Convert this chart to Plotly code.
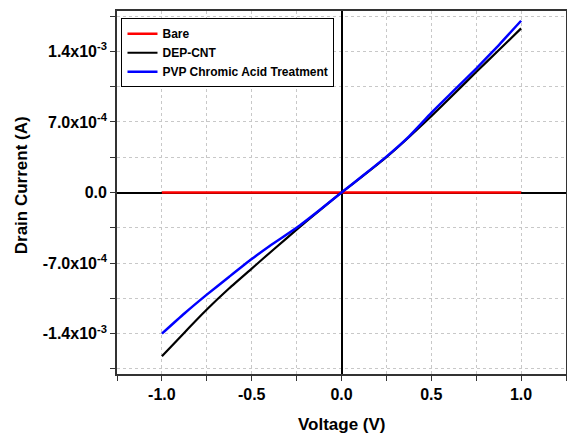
import plotly.graph_objects as go

# Voltage (V) / Drain current (A)
v_bare = [-1.0, -0.5, 0.0, 0.5, 1.0]
i_bare = [0.0, 0.0, 0.0, 0.0, 0.0]

v_dep = [-1.0, -0.875, -0.75, -0.625, -0.5, -0.375, -0.25, -0.125, 0.0,
         0.125, 0.25, 0.375, 0.5, 0.625, 0.75, 0.875, 1.0]
i_dep = [-1.624e-3, -1.39e-3, -1.161e-3, -0.95e-3, -0.755e-3, -0.56e-3, -0.369e-3, -0.182e-3, 0.0,
         0.172e-3, 0.350e-3, 0.548e-3, 0.757e-3, 0.975e-3, 1.195e-3, 1.41e-3, 1.628e-3]

v_pvp = [-1.0, -0.875, -0.75, -0.625, -0.5, -0.4, -0.25, -0.125, 0.0,
         0.125, 0.25, 0.375, 0.5, 0.625, 0.75, 0.875, 1.0]
i_pvp = [-1.40e-3, -1.20e-3, -1.013e-3, -0.835e-3, -0.66e-3, -0.53e-3, -0.35e-3, -0.178e-3, 0.0,
         0.175e-3, 0.356e-3, 0.555e-3, 0.79e-3, 1.01e-3, 1.229e-3, 1.46e-3, 1.703e-3]

x_tickvals = [-1.0, -0.5, 0.0, 0.5, 1.0]
x_ticktext = ["-1.0", "-0.5", "0.0", "0.5", "1.0"]
x_minorvals = [-1.25, -0.75, -0.25, 0.25, 0.75, 1.25]
y_tickvals = [-1.4e-3, -7.0e-4, 0.0, 7.0e-4, 1.4e-3]
y_ticktext = ["-1.4x10<sup>-3</sup>", "-7.0x10<sup>-4</sup>", "0.0",
              "7.0x10<sup>-4</sup>", "1.4x10<sup>-3</sup>"]
y_minorvals = [-1.75e-3, -1.05e-3, -3.5e-4, 3.5e-4, 1.05e-3, 1.75e-3]

FONT = "Liberation Sans, Arial, sans-serif"

fig = go.Figure()
fig.add_trace(go.Scatter(x=v_bare, y=i_bare, mode="lines", name="Bare",
                         line=dict(color="#ff0000", width=2.5)))
fig.add_trace(go.Scatter(x=v_dep, y=i_dep, mode="lines", name="DEP-CNT",
                         line=dict(color="#000000", width=2.2, shape="spline", smoothing=0.5)))
fig.add_trace(go.Scatter(x=v_pvp, y=i_pvp, mode="lines", name="PVP Chromic Acid Treatment",
                         line=dict(color="#0000ff", width=2.5, shape="spline", smoothing=0.5)))

common = dict(
    ticks="outside", ticklen=5, tickwidth=1.3, tickcolor="#333",
    showline=True, linecolor="#333", linewidth=1.8, mirror=True,
    zeroline=True, zerolinecolor="#000", zerolinewidth=1.5,
    tickfont=dict(family=FONT, size=16, color="#000", weight="bold"),
    showgrid=True, gridcolor="#c8c8c8", griddash="dot", gridwidth=1,
    automargin=False,
)
minor_common = dict(ticks="outside", ticklen=5, tickwidth=1.3, tickcolor="#333",
                    showgrid=True, gridcolor="#c8c8c8", griddash="dot", gridwidth=1)

fig.update_xaxes(range=[-1.25, 1.25], tickmode="array", tickvals=x_tickvals, ticktext=x_ticktext,
                 minor=dict(tickmode="array", tickvals=x_minorvals, **minor_common), **common)
fig.update_yaxes(range=[-1.8e-3, 1.8e-3], tickmode="array", tickvals=y_tickvals, ticktext=y_ticktext,
                 minor=dict(tickmode="array", tickvals=y_minorvals, **minor_common), **common)

title_font = dict(family=FONT, size=17, color="#000", weight="bold")
fig.add_annotation(text="Voltage (V)", xref="paper", yref="paper", x=0.5, y=-0.138,
                   xanchor="center", yanchor="middle", showarrow=False, font=title_font)
fig.add_annotation(text="Drain Current (A)", xref="paper", yref="paper", x=-0.2138, y=0.52,
                   xanchor="center", yanchor="middle", textangle=-90, showarrow=False, font=title_font)

fig.update_layout(
    width=567, height=434,
    margin=dict(l=117, r=1, t=11, b=60),
    paper_bgcolor="white", plot_bgcolor="white",
    showlegend=True,
    legend=dict(x=0.01, y=0.98, xanchor="left", yanchor="top",
                bgcolor="white", bordercolor="#000", borderwidth=1,
                font=dict(family=FONT, size=12, color="#000", weight="bold"),
                itemwidth=30, tracegroupgap=0, traceorder="normal"),
)

fig.write_html("out.html", config={"displayModeBar": False},
               post_script="document.body.style.margin='0';document.body.style.overflow='hidden';")
